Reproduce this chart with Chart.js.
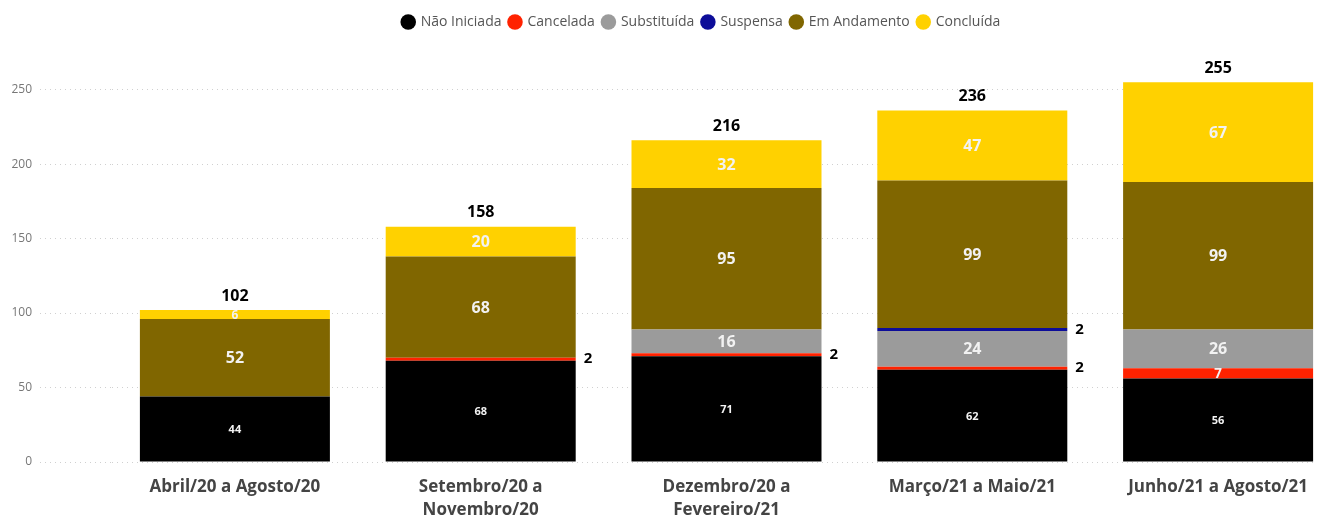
<!DOCTYPE html>
<html>
<head>
<meta charset="utf-8">
<script src="https://cdn.jsdelivr.net/npm/chart.js@4.4.0/dist/chart.umd.min.js"></script>
<style>
  html, body { margin: 0; padding: 0; background: #fff; overflow: hidden; }
  #wrap { position: relative; width: 1345px; height: 519px; }
</style>
</head>
<body>
<div id="wrap"><canvas id="myStackedChart"></canvas></div>
<script>
var periodos = [
  'Abril/20 a Agosto/20',
  ['Setembro/20 a', 'Novembro/20'],
  ['Dezembro/20 a', 'Fevereiro/21'],
  'Março/21 a Maio/21',
  'Junho/21 a Agosto/21'
];
var naoIniciada = [44, 68, 71, 62, 56];
var cancelada   = [0, 2, 2, 2, 7];
var substituida = [0, 0, 16, 24, 26];
var suspensa    = [0, 0, 0, 2, 0];
var emAndamento = [52, 68, 95, 99, 99];
var concluida   = [6, 20, 32, 47, 67];
var yTicks = [0, 50, 100, 150, 200, 250];

var fonte = '"Open Sans", sans-serif';

// valores dentro das barras, os pequenos ao lado e o total em cima
var rotulos = {
  id: 'rotulos',
  afterLayout: function (chart) {
    // legenda um pouco à direita, centrada sobre o visual
    chart.legend.left += 31;
    chart.legend.right += 31;
  },
  afterDatasetsDraw: function (chart) {
    var ctx = chart.ctx;
    ctx.save();
    ctx.textBaseline = 'middle';
    chart.data.datasets.forEach(function (ds, i) {
      var meta = chart.getDatasetMeta(i);
      meta.data.forEach(function (bar, j) {
        var v = ds.data[j];
        if (!v) return;
        var h = bar.base - bar.y;
        var cy = (bar.y + bar.base) / 2;
        if (h < 6) {
          ctx.fillStyle = '#000';
          ctx.textAlign = 'left';
          ctx.font = 'bold 15px ' + fonte;
          ctx.fillText(v, bar.x + bar.width / 2 + 8, cy);
        } else {
          var tam = i === 0 ? 11 : Math.min(16, h + 3);
          ctx.fillStyle = '#f2f2f2';
          ctx.textAlign = 'center';
          ctx.font = 'bold ' + tam + 'px ' + fonte;
          ctx.fillText(v, bar.x, cy + 1);
        }
      });
    });
    var y = chart.scales.y;
    var base = chart.getDatasetMeta(0);
    periodos.forEach(function (p, j) {
      var total = 0;
      chart.data.datasets.forEach(function (ds) { total += ds.data[j]; });
      ctx.fillStyle = '#000';
      ctx.textAlign = 'center';
      ctx.font = 'bold 16px ' + fonte;
      ctx.fillText(total, base.data[j].x, y.getPixelForValue(total) - 14);
    });
    ctx.restore();
  }
};

var ctx = document.getElementById('myStackedChart').getContext('2d');
var myStackedChart = new Chart(ctx, {
  type: 'bar',
  data: {
    labels: periodos,
    datasets: [
      { label: 'Não Iniciada', data: naoIniciada, backgroundColor: '#000000' },
      { label: 'Cancelada', data: cancelada, backgroundColor: '#FF2200' },
      { label: 'Substituída', data: substituida, backgroundColor: '#9B9B9B' },
      { label: 'Suspensa', data: suspensa, backgroundColor: '#0D0D99' },
      { label: 'Em Andamento', data: emAndamento, backgroundColor: '#806600' },
      { label: 'Concluída', data: concluida, backgroundColor: '#FFD100' }
    ]
  },
  options: {
    responsive: true,
    maintainAspectRatio: false,
    animation: false,
    datasets: {
      bar: { barPercentage: 0.773, categoryPercentage: 1 }
    },
    layout: { padding: { left: 0, right: 4, top: 7, bottom: 0 } },
    plugins: {
      legend: {
        position: 'top',
        labels: {
          usePointStyle: true,
          pointStyle: 'circle',
          boxWidth: 11,
          boxHeight: 11,
          padding: 8,
          color: '#555',
          font: { family: fonte, size: 14 }
        }
      },
      tooltip: { enabled: false }
    },
    scales: {
      x: {
        stacked: true,
        afterFit: function (scale) { scale.height = 57; },
        grid: { display: false, drawTicks: false },
        border: { display: false },
        ticks: {
          color: '#444',
          padding: 14,
          maxRotation: 0,
          autoSkip: false,
          font: { family: fonte, size: 17, weight: 'bold', lineHeight: 1.35 }
        }
      },
      y: {
        stacked: true,
        min: 0,
        max: 284,
        afterBuildTicks: function (scale) {
          scale.ticks = yTicks.map(function (v) { return { value: v }; });
        },
        afterFit: function (scale) { scale.width = 112; },
        border: { display: false, dash: [1, 4] },
        grid: {
          color: '#d0d0d0',
          tickColor: '#d0d0d0',
          tickBorderDash: [1, 4],
          tickLength: 72
        },
        ticks: {
          color: '#777',
          padding: 8,
          font: { family: fonte, size: 12 }
        }
      }
    }
  },
  plugins: [rotulos]
});
</script>
</body>
</html>
